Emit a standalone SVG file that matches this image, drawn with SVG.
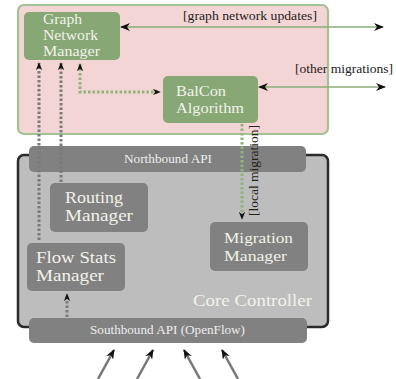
<svg xmlns="http://www.w3.org/2000/svg" width="396" height="379" viewBox="0 0 396 379">
<defs>
<style>
.t{font-family:"Liberation Serif","DejaVu Serif",serif;fill:#f2f2ea}
.big{font-size:15.5px}
.big2{font-size:17px}
.lbl{font-family:"Liberation Serif","DejaVu Serif",serif;font-size:11.5px;fill:#222}
.api{font-family:"Liberation Serif","DejaVu Serif",serif;font-size:11.5px;fill:#eeeeee}
.gbox{fill:#87a775}
.kbox{fill:#818181}
.gline{stroke:#8aae77;stroke-width:1.6;fill:none}
.gdot{stroke:#8fb47c;stroke-width:3;stroke-dasharray:2.5 2;fill:none}
.kdot{stroke:#7a7a7a;stroke-width:3;stroke-dasharray:2.5 2;fill:none}
.in{stroke:#777777;stroke-width:2.5;fill:none}
</style>
<marker id="ah" viewBox="0 0 10 8" refX="9" refY="4" markerWidth="10" markerHeight="8" markerUnits="userSpaceOnUse" orient="auto-start-reverse">
<path d="M0,0 L10,4 L0,8 L3,4 z" fill="#111"/>
</marker>
<marker id="ahs" viewBox="0 0 10 8" refX="9" refY="4" markerWidth="8" markerHeight="7" markerUnits="userSpaceOnUse" orient="auto-start-reverse">
<path d="M0,0 L10,4 L0,8 L3,4 z" fill="#111"/>
</marker>
</defs>
<rect width="396" height="379" fill="#ffffff"/>

<g id="cloud-region">
<rect x="18" y="5" width="310" height="129" rx="6" fill="#f4d5d5" stroke="#a4c294" stroke-width="2.2"/>
</g>

<g id="core-controller">
<rect x="18" y="155" width="310" height="172" rx="6" fill="#bdbdbd" stroke="#2b2b2b" stroke-width="2.5"/>
<text class="t" x="193" y="306" style="font-size:17px" textLength="119" lengthAdjust="spacingAndGlyphs">Core Controller</text>
</g>

<g id="graph-network-manager">
<rect class="gbox" x="24" y="12" width="96" height="48" rx="5"/>
<text class="t big" x="43" y="24" textLength="39" lengthAdjust="spacingAndGlyphs">Graph</text>
<text class="t big" x="43" y="40" textLength="55" lengthAdjust="spacingAndGlyphs">Network</text>
<text class="t big" x="43" y="56" textLength="57" lengthAdjust="spacingAndGlyphs">Manager</text>
</g>

<g id="balcon-algorithm">
<rect class="gbox" x="163" y="76" width="95" height="47" rx="5"/>
<text class="t big" x="176" y="96" textLength="50" lengthAdjust="spacingAndGlyphs">BalCon</text>
<text class="t big" x="176" y="113" textLength="68" lengthAdjust="spacingAndGlyphs">Algorithm</text>
</g>

<g id="northbound-api">
<rect class="kbox" x="29" y="146" width="277" height="26" rx="5"/>
<text class="api" x="124" y="163" textLength="88" lengthAdjust="spacingAndGlyphs">Northbound API</text>
</g>

<g id="routing-manager">
<rect class="kbox" x="50" y="183" width="98" height="49" rx="5"/>
<text class="t big2" x="65" y="203" textLength="58" lengthAdjust="spacingAndGlyphs">Routing</text>
<text class="t big2" x="65" y="221" textLength="68" lengthAdjust="spacingAndGlyphs">Manager</text>
</g>

<g id="flow-stats-manager">
<rect class="kbox" x="27" y="243" width="98" height="48" rx="5"/>
<text class="t big2" x="36" y="263" textLength="80" lengthAdjust="spacingAndGlyphs">Flow Stats</text>
<text class="t big2" x="36" y="281" textLength="68" lengthAdjust="spacingAndGlyphs">Manager</text>
</g>

<g id="migration-manager">
<rect class="kbox" x="210" y="222" width="98" height="49" rx="5"/>
<text class="t big" x="224" y="243" textLength="69" lengthAdjust="spacingAndGlyphs">Migration</text>
<text class="t big" x="224" y="261" textLength="63" lengthAdjust="spacingAndGlyphs">Manager</text>
</g>

<g id="southbound-api">
<rect class="kbox" x="29" y="318" width="278" height="25" rx="5"/>
<text class="api" x="90" y="334" textLength="155" lengthAdjust="spacingAndGlyphs">Southbound API (OpenFlow)</text>
</g>

<g id="connectors">
<path class="gline" d="M121,27 L383,27" marker-start="url(#ah)" marker-end="url(#ah)"/>
<text class="lbl" x="183" y="20" textLength="134" lengthAdjust="spacingAndGlyphs">[graph network updates]</text>
<path class="gline" d="M259,87 L385,87" marker-start="url(#ah)" marker-end="url(#ah)"/>
<text class="lbl" x="295" y="73" textLength="98" lengthAdjust="spacingAndGlyphs">[other migrations]</text>
<path class="gdot" d="M80,64 L80,92 L160,92" marker-start="url(#ahs)" marker-end="url(#ahs)"/>
<path class="gdot" d="M242,124 L242,219" marker-end="url(#ahs)"/>
<text class="lbl" transform="translate(258,216) rotate(-90)" textLength="91" lengthAdjust="spacingAndGlyphs">[local migration]</text>
<path class="kdot" d="M39,240 L39,63" marker-end="url(#ahs)"/>
<path class="kdot" d="M61,182 L61,63" marker-end="url(#ahs)"/>
<path class="kdot" d="M67,317 L67,294" marker-end="url(#ahs)"/>
<path class="in" d="M98,379 L114,350" marker-end="url(#ah)"/>
<path class="in" d="M137,379 L153,350" marker-end="url(#ah)"/>
<path class="in" d="M200,379 L184,350" marker-end="url(#ah)"/>
<path class="in" d="M238,379 L222,350" marker-end="url(#ah)"/>
</g>
</svg>
